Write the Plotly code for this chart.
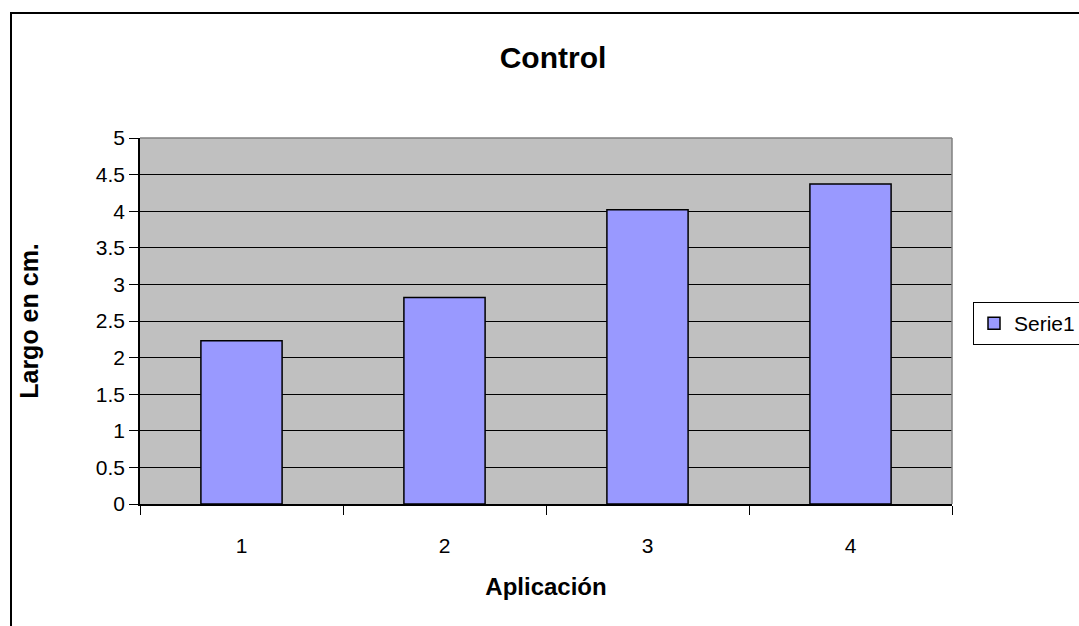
import plotly.graph_objects as go

categories = ["1", "2", "3", "4"]
values = [2.23, 2.82, 4.02, 4.37]
series_name = "Serie1"
y_ticks = [0, 0.5, 1, 1.5, 2, 2.5, 3, 3.5, 4, 4.5, 5]
y_tick_labels = ["0", "0.5", "1", "1.5", "2", "2.5", "3", "3.5", "4", "4.5", "5"]

W, H = 1110, 626          # wider than the window; the right edge is cut off like the reference
L, R, T, B = 140, W - 952, 138, 122
pw, ph = W - L - R, H - T - B

def px_x(x):
    return (x - L) / pw

def px_y(y):
    return (H - B - y) / ph

fig = go.Figure()
fig.add_trace(go.Bar(
    x=categories, y=values, name=series_name,
    marker=dict(color="#9999FF", line=dict(color="black", width=1.5)),
    showlegend=True,
))

font = "Arial, Liberation Sans, sans-serif"
fig.update_layout(
    width=W, height=H,
    margin=dict(l=L, r=R, t=T, b=B),
    paper_bgcolor="white",
    plot_bgcolor="#C0C0C0",
    bargap=0.6,
    font=dict(family=font, size=21, color="black"),
    title=dict(text="<b>Control</b>", x=px_x(553), xref="paper", xanchor="center",
               y=1 - 57 / H, yanchor="middle", font=dict(size=30, family=font)),
    showlegend=True,
    legend=dict(x=px_x(973), y=px_y(302), xanchor="left", yanchor="top",
                bordercolor="black", borderwidth=1, bgcolor="white",
                font=dict(size=21, family=font), itemwidth=30,
                tracegroupgap=0),
    xaxis=dict(
        title=dict(text="<b>Aplicación</b>", font=dict(size=24), standoff=22),
        showgrid=False, showline=True, linecolor="black", linewidth=1.5,
        ticks="outside", tickson="boundaries", ticklen=9, tickcolor="black",
        tickfont=dict(size=21), zeroline=False, ticklabelstandoff=22,
    ),
    yaxis=dict(
        title=dict(text="<b>Largo en cm.</b>", font=dict(size=25), standoff=50),
        range=[0, 5], tickvals=y_ticks, ticktext=y_tick_labels,
        showgrid=True, gridcolor="black", gridwidth=1,
        showline=True, linecolor="black", linewidth=1.5,
        ticks="outside", ticklen=9, tickcolor="black",
        tickfont=dict(size=21), zeroline=False,
    ),
)

# plot area border (top/right gray)
fig.add_shape(type="line", xref="paper", yref="paper", x0=0, x1=1, y0=1, y1=1,
              line=dict(color="#808080", width=1.5), layer="above")
fig.add_shape(type="line", xref="paper", yref="paper", x0=1, x1=1, y0=0, y1=1,
              line=dict(color="#808080", width=1.5), layer="above")
# outer chart frame
fig.add_shape(type="rect", xref="paper", yref="paper",
              x0=px_x(11), x1=px_x(1200), y0=px_y(700), y1=px_y(13),
              line=dict(color="black", width=2), layer="above")

fig.write_html("out.html", config={"displayModeBar": False},
               post_script="document.body.style.margin='0';document.body.style.overflow='hidden';document.documentElement.style.overflow='hidden';")
